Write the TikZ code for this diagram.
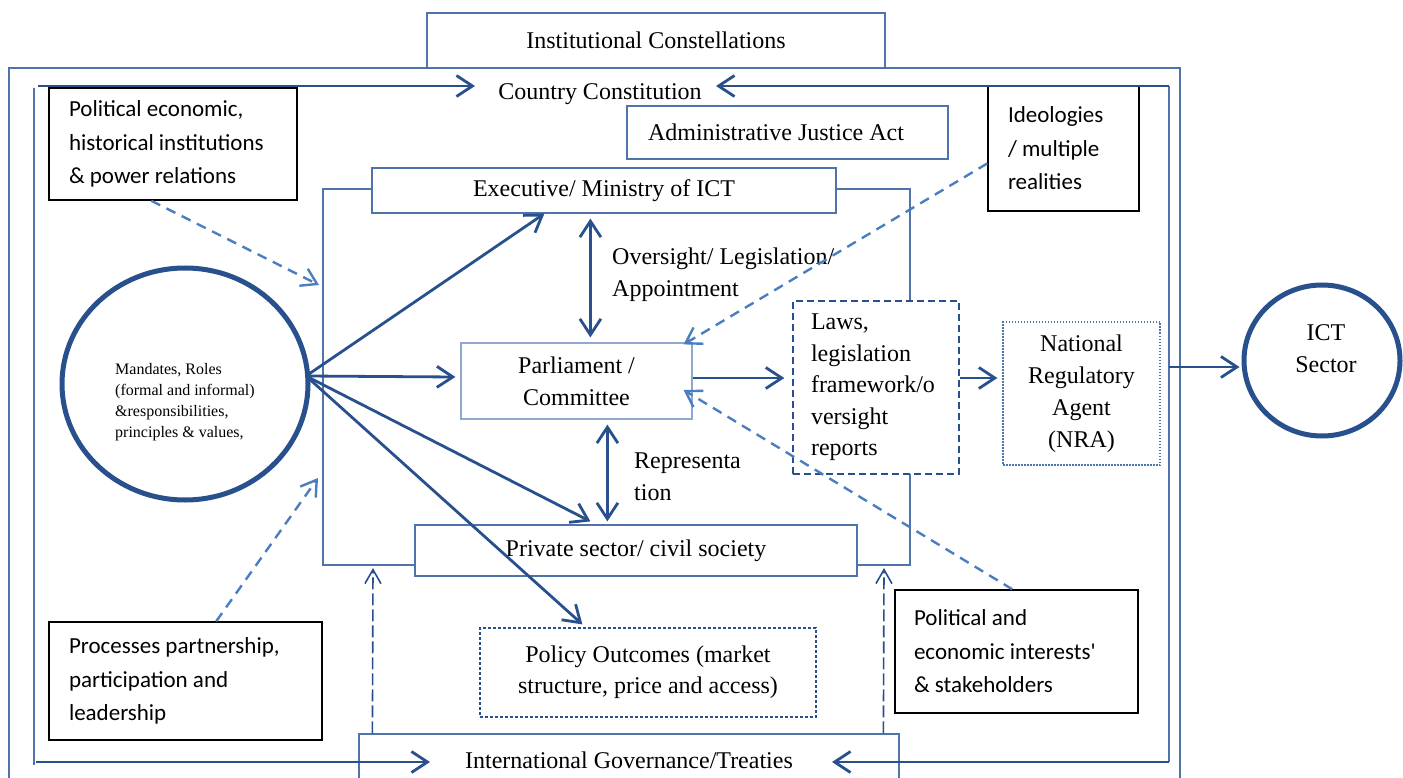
\documentclass[tikz,border=0pt]{standalone}
\usepackage{fontspec}
\setmainfont{Liberation Serif}
\newfontfamily\calib{Carlito}
\usetikzlibrary{arrows.meta,shapes.geometric,calc}
\definecolor{dkblue}{RGB}{40,80,140}
\definecolor{mdblue}{RGB}{79,116,172}
\definecolor{ltblue}{RGB}{143,168,206}
\definecolor{dsblue}{RGB}{74,126,193}
\hyphenpenalty=10000
\exhyphenpenalty=10000
\begin{document}
\begin{tikzpicture}[x=1pt,y=-1pt,
  serif/.style={font=\fontsize{24}{32}\selectfont},
  sans/.style={font=\calib\fontsize{23}{33.5}\selectfont},
  thinbox/.style={draw=mdblue,line width=1.2pt,fill=white,inner sep=0pt,serif,align=center},
  blkbox/.style={draw=black,line width=1.5pt,fill=white,sans,align=flush left,inner ysep=0pt},
  frameline/.style={draw=mdblue,line width=1.2pt},
  arr/.style={draw=dkblue,line width=2.8pt,-{Straight Barb[length=16pt,width=21pt]}},
  darr/.style={draw=dkblue,line width=2.8pt,{Straight Barb[length=16pt,width=21pt]}-{Straight Barb[length=16pt,width=21pt]}},
  dsarr/.style={draw=dsblue,line width=2.4pt,dash pattern=on 10pt off 7pt,-{Straight Barb[length=15pt,width=19pt]}},
  igarr/.style={draw=dkblue,line width=1.6pt,dash pattern=on 12pt off 4pt,-{Straight Barb[length=14pt,width=16pt]}},
  bigellipse/.style={ellipse,draw=dkblue,line width=5pt,inner sep=0pt}
]
\useasboundingbox (0,0) rectangle (1403,778);
\clip (0,0) rectangle (1403,778);

% outer frame and thin lines
\draw[frameline] (9,68) rectangle (1180,800);
\draw[frameline] (34,88) -- (34,765);
\coordinate (tl) at (38,86);
\coordinate (tr) at (1169,86);
\coordinate (br) at (1169,762);
\coordinate (bl) at (36,762);
\coordinate (rjoin) at (1169,367);
\draw[draw=mdblue,line width=1.8pt] (tr) -- (br);

% inner rectangle
\draw[frameline] (323,189) rectangle (910,565);
\coordinate (inA) at (319,285);
\coordinate (inB) at (318,478);
\coordinate (inC) at (373,568);
\coordinate (inD) at (884,568);

% boxes
\node[thinbox,minimum width=458,minimum height=55] (inst) at (656,40.5) {Institutional Constellations};
\node[thinbox,minimum width=321,minimum height=53,text width=279,inner xsep=21,align=flush left] (admin) at (787.5,132.5) {Administrative Justice Act};
\node[thinbox,minimum width=464,minimum height=45] (exec) at (604,190.5) {Executive/ Ministry of ICT};
\node[thinbox,draw=ltblue,minimum width=231,minimum height=76] (parl) at (576.5,381) {Parliament /\\Committee};
\node[thinbox,draw=dkblue,line width=1.4pt,dash pattern=on 7pt off 4pt,minimum height=173,text width=130,inner xsep=18,align=flush left,font=\fontsize{24}{31.5}\selectfont] (laws) at (876,387.5) {Laws,\\legislation\\framework/o\\versight\\reports};
\node[thinbox,dash pattern=on 1.5pt off 1.5pt,minimum width=157,minimum height=143] (nra) at (1081.5,393.5) {National\\Regulatory\\Agent\\(NRA)};
\node[thinbox,minimum width=442,minimum height=51] (private) at (636,550.5) {Private sector/ civil society};
\node[thinbox,draw=dkblue,dash pattern=on 3pt off 2pt,minimum width=336,minimum height=89,font=\fontsize{24}{31}\selectfont] (policy) at (648,672.5) {Policy Outcomes (market\\structure, price and access)};
\node[thinbox,minimum width=540,minimum height=52] (ig) at (629,760) {International Governance/Treaties};

\node[blkbox,text width=208,inner xsep=20,minimum height=112] (polbox) at (173,144) {Political economic,\\historical institutions\\\& power relations};
\node[blkbox,text width=111,inner xsep=20,minimum height=125] (ideo) at (1063.5,148.5) {Ideologies\\/ multiple\\realities};
\node[blkbox,text width=233,inner xsep=20,minimum height=118] (proc) at (185.5,681) {Processes partnership,\\participation and\\leadership};
\node[blkbox,text width=205,inner xsep=19,minimum height=123] (polint) at (1016.5,651.5) {Political and\\economic interests'\\\& stakeholders};

% ellipses
\node[bigellipse,fill=white,minimum width=246,minimum height=232] (mand) at (185,384) {};
\node[anchor=west,align=left,font=\fontsize{16}{21}\selectfont,inner sep=0pt] (mandtext) at (115,402) {Mandates, Roles\\(formal and informal)\\\&responsibilities,\\principles \& values,};
\node[bigellipse,fill=white,minimum width=156,minimum height=151] (ict) at (1322,360.5) {};
\node[serif,align=center,inner sep=0pt] (ictlabel) at (1326,349) {ICT\\Sector};

% labels
\node[serif,inner sep=0pt] (cc) at (600,94) {Country Constitution};
\node[serif,anchor=west,align=left,inner sep=0pt] (ovs) at (612,275) {Oversight/ Legislation/\\Appointment};
\node[serif,anchor=west,align=left,inner sep=0pt] (rep) at (634,477) {Representa\\tion};

% loop arrows
\coordinate (ccl) at (475,86);
\coordinate (ccr) at (716,86);
\coordinate (igl) at (430,762);
\coordinate (igr) at (832,762);
\draw[arr] (tl) -- (ccl);
\draw[arr] (tr) -- (ccr);
\draw[arr] (bl) -- (igl);
\draw[arr] (br) -- (igr);
\draw[arr] (rjoin) -- ($(ict.west)+(-2,6.5)$);

% arrows from mandates
\coordinate (hub) at (306,376);
\draw[arr] (hub) -- ($(exec.south west)+(173,0)$);
\draw[arr] (hub) -- ($(parl.west)+(-5,-4)$);
\draw[arr] (hub) -- ($(private.north west)+(176,-3)$);
\draw[arr] (hub) -- ($(policy.north west)+(103,-3)$);

% double arrows
\draw[darr] ($(exec.south west)+(219,5)$) -- ($(parl.north west)+(130,-5)$);
\draw[darr] ($(parl.south west)+(147,5)$) -- ($(private.north west)+(193,-3)$);

% chain
\draw[arr] ($(parl.east)+(0,-3)$) -- ($(laws.west)+(-8,-9.5)$);
\draw[arr] ($(laws.east)+(0,-9.5)$) -- ($(nra.west)+(-5,-15.5)$);

% dashed influences
\draw[dsarr] ($(polbox.south west)+(103,0)$) -- (inA);
\draw[dsarr] ($(proc.north west)+(168,0)$) -- (inB);
\draw[dsarr] ($(ideo.west)+(0,15)$) -- ($(parl.north east)+(-9,2)$);
\draw[dsarr] ($(polint.north west)+(118,0)$) -- ($(parl.east)+(-9,9)$);
\draw[igarr] ($(ig.north west)+(14,0)$) -- (inC);
\draw[igarr] ($(ig.north west)+(525,0)$) -- (inD);
\end{tikzpicture}
\end{document}
